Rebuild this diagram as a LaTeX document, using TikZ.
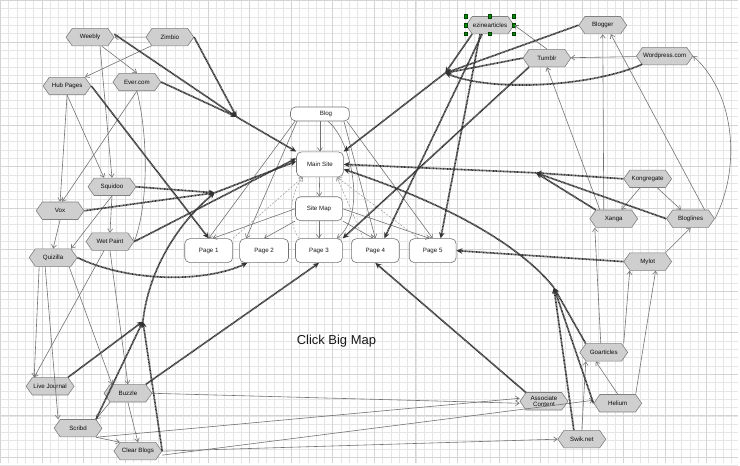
\documentclass[tikz,border=0pt]{standalone}
\usepackage{fontspec}
\setmainfont{Liberation Sans}
\usetikzlibrary{arrows.meta,shapes.symbols}
\begin{document}
\begin{tikzpicture}[x=1pt,y=-1pt,
  hex/.style={signal, signal to=east and west, signal pointer angle=110, draw=black!50, fill=black!19, line width=0.6pt, minimum width=48pt, minimum height=17.5pt, inner xsep=0.5pt, inner ysep=1pt, font=\fontsize{6.2}{6.6}\selectfont, text=black!95, align=center},
  rbox/.style={rectangle, rounded corners=5pt, draw=black!55, fill=white, line width=0.6pt, minimum width=47pt, minimum height=24pt, font=\fontsize{6.2}{7}\selectfont, text=black!90},
  ln/.style={draw=black!55, line width=0.6pt, -{Straight Barb[length=3.5pt,width=5pt]}},
  tk/.style={draw=black!80, line width=1.7pt, dash pattern=on 0.9pt off 0.5pt, -{Stealth[length=6pt,width=5.5pt]}},
  dsh/.style={draw=black!40, line width=0.5pt, dash pattern=on 2pt off 1.5pt, -{Straight Barb[length=3.5pt,width=5pt]}},
  gminor/.style={draw=black!10, line width=0.4pt},
  gmajor/.style={draw=black!17, line width=0.5pt},
  handle/.style={fill=green!55!black, draw=green!25!black, line width=0.3pt}
]
% background and grid
\fill[white] (0,0) rectangle (740,464);
\foreach \i in {0,...,89}{\draw[gminor] ({\i*8.33},0) -- ({\i*8.33},464);}
\foreach \j in {0,...,56}{\draw[gminor] (0,{\j*8.33}) -- (740,{\j*8.33});}
\foreach \i in {0,...,17}{\draw[gmajor] ({\i*41.65},0) -- ({\i*41.65},464);}
\foreach \j in {0,...,11}{\draw[gmajor] (0,{\j*41.65}) -- (740,{\j*41.65});}
\useasboundingbox (0,0) rectangle (740,464);

% ---------- nodes ----------
\node[hex] (weebly) at (90,37) {Weebly};
\node[hex] (zimbio) at (170,37) {Zimbio};
\node[hex] (hub) at (67,86) {Hub Pages};
\node[hex] (ever) at (137,82) {Ever.com};
\node[hex] (squidoo) at (112,187) {Squidoo};
\node[hex] (vox) at (60,211) {Vox};
\node[hex] (wet) at (110,242) {Wet Paint};
\node[hex] (quiz) at (53,258) {Quizilla};
\node[hex] (lj) at (50,387) {Live Journal};
\node[hex] (buzzle) at (128,394) {Buzzle};
\node[hex] (scribd) at (78,429) {Scribd};
\node[hex] (clear) at (138,452) {Clear Blogs};
\node[hex] (ezine) at (491,25) {ezinearticles};
\node[hex] (blogger) at (604,25) {Blogger};
\node[hex] (tumblr) at (548,58) {Tumblr};
\node[hex] (wordpress) at (666,56) {Wordpress.com};
\node[hex] (kong) at (649,179) {Kongregate};
\node[hex] (xanga) at (615,219) {Xanga};
\node[hex] (bloglines) at (692,219) {Bloglines};
\node[hex] (mylot) at (649,262) {Mylot};
\node[hex] (goart) at (605,353) {Goarticles};
\node[hex] (assoc) at (545,402) {Associate\\Content};
\node[hex] (helium) at (619,404) {Helium};
\node[hex] (swik) at (583,440) {Swik.net};

\node[rbox, minimum width=59pt, minimum height=14pt] (blog) at (320.5,114) {\hspace{12pt}Blog};
\node[rbox, minimum height=25pt] (main) at (320.5,164.5) {Main Site};
\node[rbox] (sitemap) at (319.5,209) {Site Map};
\node[rbox, minimum width=48pt] (page1) at (209,251) {Page 1};
\node[rbox, minimum width=49pt] (page2) at (264.5,251) {Page 2};
\node[rbox] (page3) at (319.5,251) {Page 3};
\node[rbox, minimum width=48pt] (page4) at (376,251) {Page 4};
\node[rbox] (page5) at (433.5,251) {Page 5};

\node[font=\fontsize{13}{15}\selectfont, text=black!90] (cbm) at (337,342) {Click Big Map};

% selection handles on ezinearticles
\foreach \p in {(466.5,16),(491,16),(515,16),(466.5,25),(515,25),(466.5,33.5),(491,33.5),(515,33.5)}{
  \filldraw[handle] \p ++(-1.6,-1.6) rectangle ++(3.2,3.2);}

% junction points
\coordinate (J1) at (237,117);
\coordinate (J2) at (215,193);
\coordinate (J3) at (143,322);
\coordinate (J4) at (446,73);
\coordinate (J5) at (537,173);
\coordinate (J6) at (555,288);

% ---------- thin connectors ----------
\draw[ln] (zimbio) -- (weebly);
\draw[ln] (zimbio) -- (hub.north east);
\draw[ln] (weebly) -- (ever.north);
\draw[ln] ([xshift=10pt]weebly.south) -- (squidoo.north);
\draw[ln] (hub.south) -- (vox.north);
\draw[ln] (hub.south) -- ([xshift=-8pt]squidoo.north);
\draw[ln] (ever.south) -- ([xshift=2pt]vox.north);
\draw[ln] (ever.south) .. controls (149,140) and (148,205) .. (wet.east);
\draw[ln] (squidoo.south) -- (quiz.north east);
\draw[ln] (squidoo.south) -- (wet.north);
\draw[ln] (vox.south) -- (quiz.north);
\draw[ln] ([xshift=-14pt]quiz.south) -- ([xshift=-16pt]lj.north);
\draw[ln] ([xshift=-8pt]quiz.south) -- ([xshift=-20pt]scribd.north);
\draw[ln] ([xshift=16pt]quiz.south) -- ([xshift=-16pt]buzzle.north);
\draw[ln] ([xshift=-6pt]wet.south) -- ([xshift=-16pt]lj.north);
\draw[ln] (wet.south) -- (buzzle.north);
\draw[ln] (buzzle.south west) -- (scribd.north east);
\draw[ln] (buzzle.south) -- (clear.north);
\draw[ln] (scribd.south east) -- (clear.north west);
\draw[ln] (buzzle.east) -- ([yshift=-2pt]assoc.west);
\draw[ln] (scribd.south east) -- ([yshift=3pt]assoc.west);
\draw[ln] ([yshift=-4pt]clear.east) -- ([yshift=3pt]helium.west);
\draw[ln] ([yshift=0pt]clear.east) -- (swik.west);

\draw[ln] (wordpress) -- (tumblr);
\draw[ln] (tumblr.north) -- (ezine.east);
\draw[ln] ([xshift=-14pt]xanga.north) -- (tumblr.south);
\draw[ln] ([xshift=-10pt]xanga.north) -- (blogger.south);
\draw[ln] ([xshift=14pt]bloglines.north) -- ([xshift=8pt]blogger.south);
\draw[ln] (bloglines.east) .. controls (742,170) and (738,95) .. (wordpress.east);
\draw[ln] (kong) -- (xanga);
\draw[ln] (kong) -- (bloglines);
\draw[ln] (mylot.north east) -- (bloglines.south);
\draw[ln] ([xshift=-3pt]goart.north) -- ([xshift=-19pt]xanga.south);
\draw[ln] ([xshift=20pt]goart.north) -- ([xshift=-18pt]mylot.south);
\draw[ln] ([xshift=18pt]helium.north) -- ([xshift=8pt]mylot.south);
\draw[ln] (helium.north) -- ([xshift=-8pt]goart.south);
\draw[ln] (swik.north) -- (goart.south west);

\draw[ln] (blog) -- (main);
\draw[ln] (main) -- (sitemap);
\draw[ln] (sitemap) -- (page3);
\draw[ln] ([xshift=-25pt]blog.south) -- (page1.north);
\draw[ln] ([xshift=-23pt]blog.south) -- ([xshift=-18pt]page2.north);
\draw[ln] ([xshift=24pt]blog.south) -- (page4.north);
\draw[ln] ([xshift=27pt]blog.south) -- (page5.north);
\draw[ln] ([xshift=8pt]blog.south) .. controls (352,140) and (368,215) .. ([xshift=18pt]page3.north);
\draw[ln] (sitemap.west) -- ([xshift=4pt]page1.north);
\draw[ln] (sitemap.south west) -- (page2.north);
\draw[ln] (sitemap.south east) -- ([xshift=-2pt]page4.north);
\draw[ln] (sitemap.east) -- ([xshift=-3pt]page5.north);

% dashed returns
\draw[dsh] (page1.north east) -- ([xshift=-17pt]main.south);
\draw[dsh] ([xshift=-20pt]page3.north) .. controls (289,225) and (289,195) .. ([xshift=-17pt]main.south);
\draw[dsh] ([xshift=-12pt]page4.north) -- ([xshift=17pt]main.south);
\draw[dsh] ([xshift=-14pt]page5.north) -- ([xshift=17pt]main.south);

% ---------- thick connectors ----------
\draw[tk] ([yshift=3pt]weebly.east) -- (J1);
\draw[tk] (zimbio.east) -- (J1);
\draw[tk] (ever.east) -- (J1);
\draw[tk] (J1) -- (main.north west);
\draw[tk] (hub.east) -- (page1.north);
\draw[tk] (squidoo.east) -- (J2);
\draw[tk] (vox.east) -- (J2);
\draw[tk] (J2) -- ([yshift=3pt]main.west);
\draw[tk] (wet.east) -- ([yshift=6pt]main.west);
\draw[tk] (quiz.east) .. controls (130,283) and (205,283) .. ([xshift=8pt]page2.south west);
\draw[tk] (lj.north east) -- (J3);
\draw[tk] (scribd.north east) -- (J3);
\draw[tk] (clear.east) -- (J3);
\draw[tk] (J3) .. controls (149,268) and (180,222) .. (J2);
\draw[tk] (buzzle.north east) -- (page3.south);
\draw[tk] (blogger.west) -- (J4);
\draw[tk] (tumblr.west) -- (J4);
\draw[tk] (wordpress.-160) .. controls (600,84) and (500,94) .. (J4);
\draw[tk] ([xshift=-18pt]ezine.south) -- (J4);
\draw[tk] (J4) -- (main.north east);
\draw[tk] ([xshift=-8pt]ezine.south) -- ([xshift=9pt]page4.north);
\draw[tk] ([xshift=-10pt]ezine.south) -- ([xshift=8pt]page5.north);
\draw[tk] (tumblr.south west) -- (page3.north east);
\draw[tk] (kong.west) -- (J5);
\draw[tk] (xanga.north west) -- (J5);
\draw[tk] (bloglines.west) -- (J5);
\draw[tk] (J5) -- (main.east);
\draw[tk] (mylot.west) -- (page5.east);
\draw[tk] (goart.north west) -- (J6);
\draw[tk] (helium.west) -- (J6);
\draw[tk] ([xshift=-8pt]swik.north) -- (J6);
\draw[tk] (J6) .. controls (515,238) and (430,198) .. ([yshift=-5pt]main.east);
\draw[tk] (assoc.north west) -- (page4.south);
\end{tikzpicture}
\end{document}
